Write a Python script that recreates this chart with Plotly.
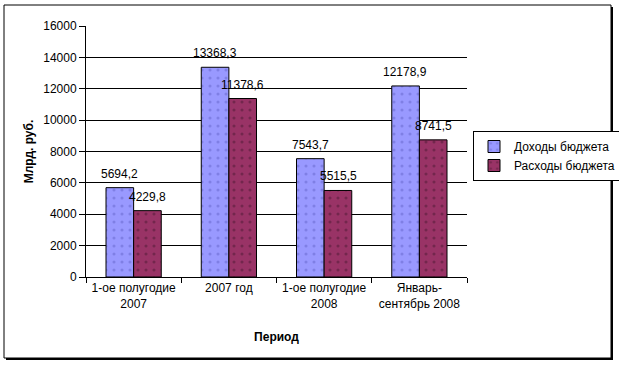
import plotly.graph_objects as go

categories = ["1-ое полугодие<br>2007", "2007 год", "1-ое полугодие<br>2008", "Январь-<br>сентябрь 2008"]
income = [5694.2, 13368.3, 7543.7, 12178.9]
expense = [4229.8, 11378.6, 5515.5, 8741.5]
income_name = "Доходы бюджета"
expense_name = "Расходы бюджета"
y_ticks = [0, 2000, 4000, 6000, 8000, 10000, 12000, 14000, 16000]

W, H = 619, 365
L, R, T, B = 86, 152, 26, 88
pw, ph = W - L - R, H - T - B

def px(x):
    return (x - L) / pw

def py(y):
    return (H - B - y) / ph

FONT = "Liberation Sans, Arial, sans-serif"

fig = go.Figure()
fig.add_trace(go.Bar(
    x=categories, y=income, name=income_name,
    marker=dict(color="#9999FF", line=dict(color="black", width=1),
                pattern=dict(shape=".", bgcolor="#9999FF", fgcolor="#6666CC", size=8, solidity=0.12)),
))
fig.add_trace(go.Bar(
    x=categories, y=expense, name=expense_name,
    marker=dict(color="#993366", line=dict(color="black", width=1),
                pattern=dict(shape=".", bgcolor="#993366", fgcolor="#4d1a33", size=8, solidity=0.12)),
))

def fmt(v):
    return f"{v:.1f}".replace(".", ",")

annotations = []
for c, v in zip(categories, income):
    annotations.append(dict(x=c, y=v, xref="x", yref="y", text=fmt(v), showarrow=False,
                            xshift=-14, yshift=5, yanchor="bottom",
                            font=dict(family=FONT, size=12, color="black")))
for c, v in zip(categories, expense):
    annotations.append(dict(x=c, y=v, xref="x", yref="y", text=fmt(v), showarrow=False,
                            xshift=14, yshift=5, yanchor="bottom",
                            font=dict(family=FONT, size=12, color="black")))

shapes = [
    dict(type="rect", xref="paper", yref="paper",
         x0=px(6), x1=px(613), y0=py(360), y1=py(7),
         line=dict(width=0), fillcolor="black", layer="below"),
    dict(type="rect", xref="paper", yref="paper",
         x0=px(4), x1=px(611), y0=py(358), y1=py(5),
         line=dict(color="black", width=1), fillcolor="white", layer="below"),
]

fig.update_layout(
    width=W, height=H,
    margin=dict(l=L, r=R, t=T, b=B, autoexpand=False),
    paper_bgcolor="rgba(0,0,0,0)",
    plot_bgcolor="#c8c8c8",
    barmode="group",
    bargap=0.42,
    bargroupgap=0,
    font=dict(family=FONT, size=12, color="black"),
    showlegend=True,
    legend=dict(x=px(473), y=py(131), xanchor="left", yanchor="top",
                bgcolor="white", bordercolor="black", borderwidth=1, itemwidth=30,
                font=dict(family=FONT, size=12), tracegroupgap=0),
    annotations=annotations,
    shapes=shapes,
    xaxis=dict(
        title=dict(text="<b>Период</b>", font=dict(family=FONT, size=12), standoff=22),
        showline=True, linecolor="black", linewidth=1, automargin=False,
        ticks="outside", tickson="boundaries", ticklen=5, tickcolor="black",
        tickangle=0, showgrid=False, tickfont=dict(family=FONT, size=12),
    ),
    yaxis=dict(
        title=dict(text="<b>Млрд. руб.</b>", font=dict(family=FONT, size=12), standoff=7),
        range=[0, 16000], tickvals=y_ticks, ticktext=[str(t) for t in y_ticks],
        showline=True, linecolor="black", linewidth=1, automargin=False,
        ticks="outside", ticklen=6, tickcolor="black",
        showgrid=True, gridcolor="black", gridwidth=1,
        zeroline=False, tickfont=dict(family=FONT, size=12),
    ),
)

fig.write_html("out.html", config={"displayModeBar": False},
               post_script="document.body.style.margin='0';document.body.style.overflow='hidden';")
